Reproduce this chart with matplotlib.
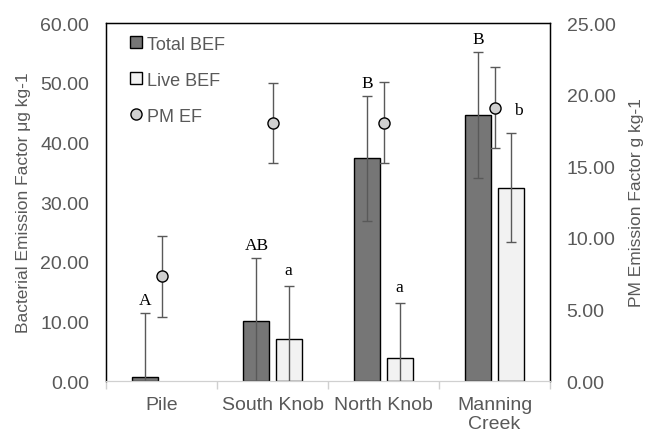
import numpy as np
import matplotlib
matplotlib.use('Agg')
import matplotlib.pyplot as plt
from matplotlib.lines import Line2D

plt.rcParams['font.family'] = ['Liberation Sans', 'DejaVu Sans']

sites = ['Pile', 'South Knob', 'North Knob', 'Manning\nCreek']

# bacterial emission factors (left axis, ug/kg)
total_bef = [0.7, 10.1, 37.3, 44.6]
total_err = [10.7, 10.6, 10.5, 10.5]
live_bef = [0.0, 7.0, 3.85, 32.4]
live_err = [0.0, 9.0, 9.2, 9.1]

# PM emission factor (right axis, g/kg)
pm_ef = [7.3, 18.0, 18.05, 19.1]
pm_err = [2.8, 2.78, 2.82, 2.82]

# significance letters
total_letters = ['A', 'AB', 'B', 'B']
live_letters = ['', 'a', 'a', 'b']

GRAY_TXT = '#595959'
x = np.arange(len(sites))
w = 0.235
off = 0.145

fig = plt.figure(figsize=(6.48, 4.35), dpi=100)
ax = fig.add_axes([0.1636, 0.1218, 0.6852, 0.823])

ax.bar(x - off, total_bef, w, color='#767676', edgecolor='black', linewidth=1.0, zorder=2)
ax.errorbar(x - off, total_bef, yerr=total_err, fmt='none', ecolor=GRAY_TXT,
            elinewidth=1.0, capsize=3.5, capthick=1.0, zorder=3)
has_live = np.array(live_bef) > 0
ax.bar(x[has_live] + off, np.array(live_bef)[has_live], w, color='#f2f2f2',
       edgecolor='black', linewidth=1.0, zorder=2)
ax.errorbar(x[has_live] + off, np.array(live_bef)[has_live], yerr=np.array(live_err)[has_live],
            fmt='none', ecolor=GRAY_TXT, elinewidth=1.0, capsize=3.5, capthick=1.0, zorder=3)

for i in range(len(sites)):
    ax.text(x[i] - off, total_bef[i] + total_err[i] + 0.8, total_letters[i],
            ha='center', va='bottom', family='Liberation Serif', fontsize=12.5)
    if live_letters[i]:
        if i == 3:
            ax.text(x[i] + off + 0.07, 45.5, live_letters[i],
                    ha='center', va='center', family='Liberation Serif', fontsize=12.5)
        else:
            ax.text(x[i] + off, live_bef[i] + live_err[i] + 1.3, live_letters[i],
                    ha='center', va='bottom', family='Liberation Serif', fontsize=12.5)

ax.set_xlim(-0.5, 3.5)
ax.set_ylim(0, 60)
ax.set_yticks(np.arange(0, 61, 10))
ax.set_yticklabels(['%.2f' % v for v in np.arange(0, 61, 10)])
ax.tick_params(axis='y', length=0, pad=12, labelsize=14, labelcolor=GRAY_TXT)
ax.set_xticks(np.arange(-0.5, 3.6, 1.0))
ax.set_xticklabels([])
ax.set_xticks(x, minor=True)
ax.set_xticklabels(sites, minor=True)
ax.tick_params(axis='x', which='major', length=6, color='#d0d0d0', width=1)
ax.tick_params(axis='x', which='minor', length=0, pad=11, labelsize=14, labelcolor=GRAY_TXT)
for lbl in ax.get_xticklabels(minor=True):
    lbl.set_linespacing(1.15)
ax.set_ylabel('Bacterial Emission Factor μg kg-1', fontsize=12.5, color=GRAY_TXT, labelpad=7)
ax.spines['bottom'].set_color('#d0d0d0')
for s in ['left', 'right', 'top']:
    ax.spines[s].set_color('black')
    ax.spines[s].set_linewidth(1.0)

ax2 = ax.twinx()
ax2.errorbar(x, pm_ef, yerr=pm_err, fmt='o', color='#d0d0d0', mec='black', mew=1.0,
             ms=8, ecolor=GRAY_TXT, elinewidth=1.0, capsize=3.5, capthick=1.0, zorder=4)
ax2.set_ylim(0, 25)
ax2.set_yticks(np.arange(0, 26, 5))
ax2.set_yticklabels(['%.2f' % v for v in np.arange(0, 26, 5)])
ax2.tick_params(axis='y', length=0, pad=12, labelsize=14, labelcolor=GRAY_TXT)
ax2.set_ylabel('PM Emission Factor g kg-1', fontsize=12.5, color=GRAY_TXT, labelpad=10)
ax2.spines['bottom'].set_color('#d0d0d0')
for s in ['left', 'right', 'top']:
    ax2.spines[s].set_color('black')

handles = [
    Line2D([], [], ls='none', marker='s', ms=8, mfc='#767676', mec='black', mew=1.0),
    Line2D([], [], ls='none', marker='s', ms=8, mfc='#f2f2f2', mec='black', mew=1.0),
    Line2D([], [], ls='none', marker='o', ms=8, mfc='#d0d0d0', mec='black', mew=1.0),
]
leg = ax2.legend(handles, ['Total BEF', 'Live BEF', 'PM EF'], loc='upper left',
                 bbox_to_anchor=(0.01, 1.01), frameon=False, fontsize=13,
                 labelspacing=1.05, handletextpad=0.1, handlelength=1.0)
for t in leg.get_texts():
    t.set_color(GRAY_TXT)

plt.savefig('out.png', dpi=100)
